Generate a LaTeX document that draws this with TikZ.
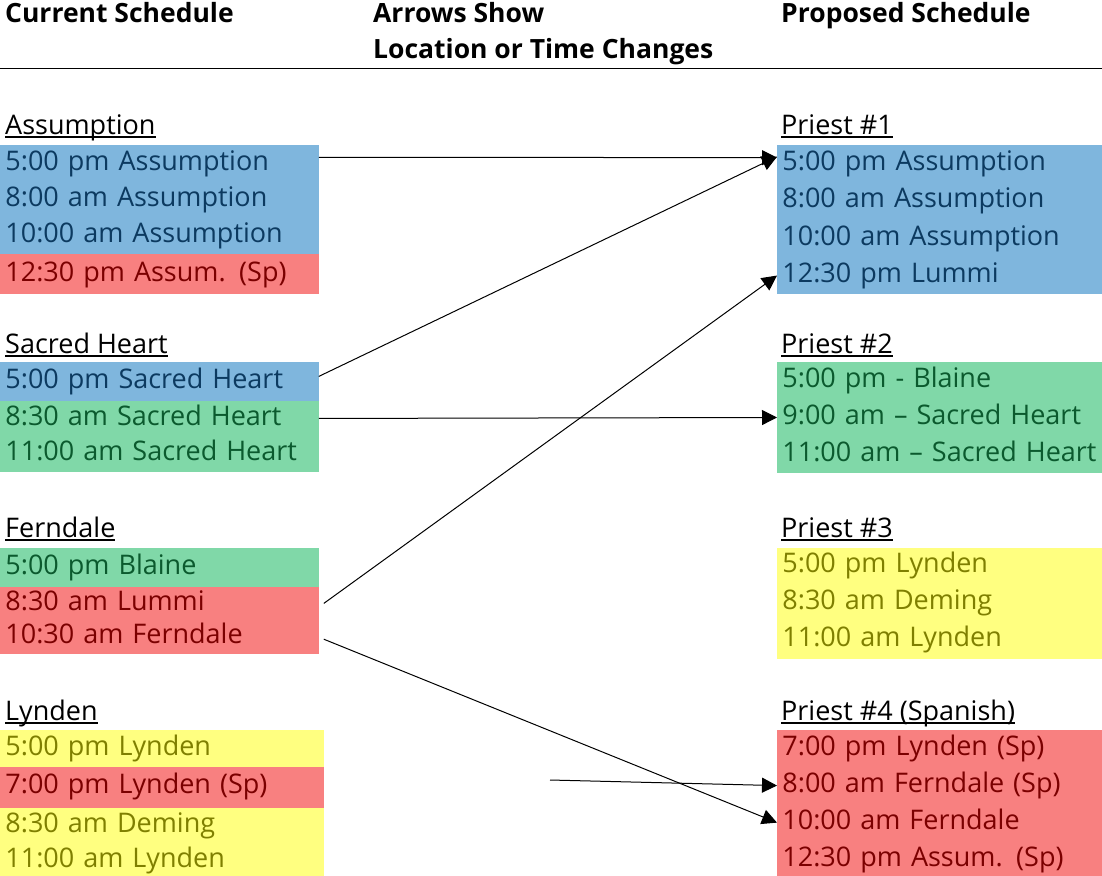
\documentclass[tikz,border=0pt]{standalone}
\usepackage{fontspec}
\setmainfont{Open Sans}
\usetikzlibrary{arrows.meta,calc}
\definecolor{blueF}{RGB}{127,182,221}
\definecolor{blueT}{RGB}{12,58,96}
\definecolor{redF}{RGB}{248,128,128}
\definecolor{redT}{RGB}{123,0,0}
\definecolor{greenF}{RGB}{128,216,168}
\definecolor{greenT}{RGB}{11,90,46}
\definecolor{yellowF}{RGB}{255,255,128}
\definecolor{yellowT}{RGB}{127,127,0}
\newcommand\rowfont{\fontsize{27}{32}\selectfont}
\newcommand\hdrfont{\fontsize{26.5}{31}\selectfont\bfseries}
\newcommand\myul[1]{\setbox0\hbox{#1}\rlap{\rule[-3.5pt]{\wd0}{1.3pt}}\box0}
\begin{document}
\begin{tikzpicture}[x=1pt,y=-1pt,
  rowL/.style={anchor=north west, inner xsep=5pt, inner ysep=0pt, text width=308pt,
    text height=19.5pt, text depth=6pt, font=\rowfont, align=left, line width=0.8pt},
  rowLL/.style={rowL, text width=313pt},
  rowR/.style={rowL, text width=315pt},
  hdr/.style={anchor=base west, inner sep=0pt, font=\hdrfont},
  grp/.style={anchor=base west, inner sep=0pt, font=\rowfont},
  blu/.style={fill=blueF, draw=blueF, text=blueT},
  red/.style={fill=redF, draw=redF, text=redT},
  grn/.style={fill=greenF, draw=greenF, text=greenT},
  ylw/.style={fill=yellowF, draw=yellowF, text=yellowT},
  arr/.style={-{Triangle[length=15pt,width=15pt]}, line width=1pt}
]
\useasboundingbox (0,0) rectangle (1102,875);
% headers
\node[hdr] (h1) at (5,23) {Current Schedule};
\node[hdr] (h2) at (373,23) {Arrows Show};
\node[hdr] (h3) at (373,59) {Location or Time Changes};
\node[hdr] (h4) at (781,23) {Proposed Schedule};
\coordinate (l0) at (0,68);
\coordinate (l1) at (1102,68);
\draw[line width=1pt] (l0) -- (l1);
% ---- left column
\node[grp] (ga) at (5,134) {\myul{Assumption}};
\node[rowL,blu,minimum height=35.7pt] (a1) at (0,145) {5:00 pm Assumption};
\node[rowL,blu,minimum height=35.7pt] (a2) at (a1.south west) {8:00 am Assumption};
\node[rowL,blu,minimum height=35.6pt] (a3) at (a2.south west) {10:00 am Assumption};
\node[rowL,red,minimum height=39pt] (a4) at (a3.south west) {12:30 pm Assum. (Sp)};
\node[grp] (gs) at (5,353) {\myul{Sacred Heart}};
\node[rowL,blu,minimum height=38pt] (s1) at (0,362) {5:00 pm Sacred Heart};
\node[rowL,grn,minimum height=34.5pt] (s2) at (s1.south west) {8:30 am Sacred Heart};
\node[rowL,grn,minimum height=34.5pt] (s3) at (s2.south west) {11:00 am Sacred Heart};
\node[grp] (gf) at (5,537) {\myul{Ferndale}};
\node[rowL,grn,minimum height=37.7pt] (f1) at (0,548) {5:00 pm Blaine};
\node[rowL,red,minimum height=33pt] (f2) at (f1.south west) {8:30 am Lummi};
\node[rowL,red,minimum height=33pt] (f3) at (f2.south west) {10:30 am Ferndale};
\node[grp] (gl) at (5,720) {\myul{Lynden}};
\node[rowLL,ylw,minimum height=36pt] (y1) at (0,730) {5:00 pm Lynden};
\node[rowLL,red,minimum height=40pt] (y2) at (y1.south west) {7:00 pm Lynden (Sp)};
\node[rowLL,ylw,minimum height=34.5pt] (y3) at (y2.south west) {8:30 am Deming};
\node[rowLL,ylw,minimum height=34.5pt] (y4) at (y3.south west) {11:00 am Lynden};
% ---- right column
\node[grp] (gp1) at (781,134) {\myul{Priest \#1}};
\node[rowR,blu,minimum height=36.5pt] (p1a) at (777,145) {5:00 pm Assumption};
\node[rowR,blu,minimum height=36.5pt] (p1b) at (p1a.south west) {8:00 am Assumption};
\node[rowR,blu,minimum height=36.5pt] (p1c) at (p1b.south west) {10:00 am Assumption};
\node[rowR,blu,minimum height=36.5pt] (p1d) at (p1c.south west) {12:30 pm Lummi};
\node[grp] (gp2) at (781,353) {\myul{Priest \#2}};
\node[rowR,grn,minimum height=36.2pt] (p2a) at (777,362) {5:00 pm - Blaine};
\node[rowR,grn,minimum height=36.2pt] (p2b) at (p2a.south west) {9:00 am – Sacred Heart};
\node[rowR,grn,minimum height=36.2pt] (p2c) at (p2b.south west) {11:00 am – Sacred Heart};
\node[grp] (gp3) at (781,537) {\myul{Priest \#3}};
\node[rowR,ylw,minimum height=36.2pt] (p3a) at (777,547.5) {5:00 pm Lynden};
\node[rowR,ylw,minimum height=36.2pt] (p3b) at (p3a.south west) {8:30 am Deming};
\node[rowR,ylw,minimum height=36.2pt] (p3c) at (p3b.south west) {11:00 am Lynden};
\node[grp] (gp4) at (781,720) {\myul{Priest \#4 (Spanish)}};
\node[rowR,red,minimum height=36.25pt] (p4a) at (777,730) {7:00 pm Lynden (Sp)};
\node[rowR,red,minimum height=36.25pt] (p4b) at (p4a.south west) {8:00 am Ferndale (Sp)};
\node[rowR,red,minimum height=36.25pt] (p4c) at (p4b.south west) {10:00 am Ferndale};
\node[rowR,red,minimum height=36.25pt] (p4d) at (p4c.south west) {12:30 pm Assum. (Sp)};
% ---- arrows
\coordinate (tip1) at ($(p1a.west)+(0,-6)$);
\draw[arr] ($(a1.east)+(0,-6)$) -- (tip1);
\draw[arr] ($(s1.east)+(0,-5)$) -- ($(p1a.west)+(0,-7)$);
\draw[arr] (s2.east) -- (p2b.west);
\draw[arr] ($(f2.east)+(5,0)$) -- (p1d.west);
\draw[arr] ($(f3.east)+(5,2)$) -- (p4c.west);
\coordinate (free6) at (550,780);
\draw[arr] (free6) -- (p4b.west);
\end{tikzpicture}
\end{document}
